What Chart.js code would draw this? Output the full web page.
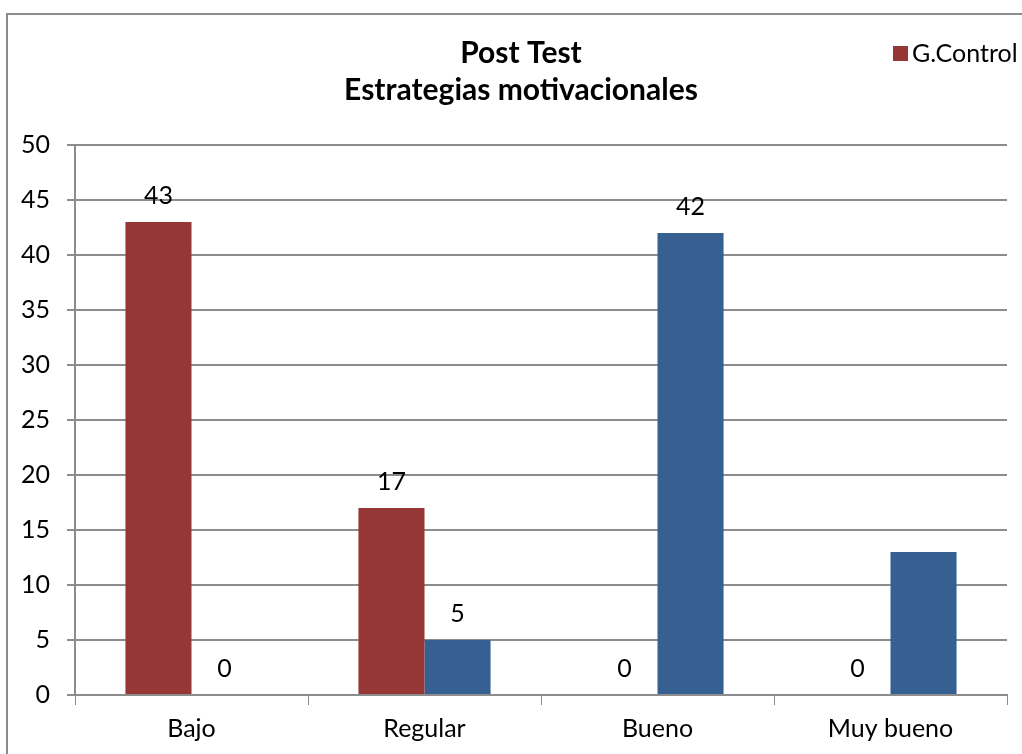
<!DOCTYPE html>
<html lang="es">
<head>
<meta charset="UTF-8">
<title>Post Test</title>
<script src="https://cdn.jsdelivr.net/npm/chart.js"></script>
<style>
  body { margin: 0; background: #fff; }
  canvas { display: block; }
</style>
</head>
<body>
<canvas id="grafico" width="1022" height="754"></canvas>
<script>
  var categorias = ['Bajo', 'Regular', 'Bueno', 'Muy bueno'];
  var gControl = [43, 17, 0, 0];
  var gExperimental = [0, 5, 42, 13];
  // el 13 no lleva etiqueta en la imagen original
  var etiquetasControl = ['43', '17', '0', '0'];
  var etiquetasExperimental = ['0', '5', '42', ''];
  var titulo = ['Post Test', 'Estrategias motivacionales'];

  var fuente = 'Lato, "Open Sans", sans-serif';
  var rojo = '#953735';
  var azul = '#376092';
  var gris = '#8c8c8c';

  var extras = {
    id: 'extras',
    beforeDraw: function (chart) {
      var ctx = chart.ctx;
      ctx.save();
      ctx.strokeStyle = gris;
      ctx.lineWidth = 2;
      ctx.beginPath();
      ctx.moveTo(7, 754);
      ctx.lineTo(7, 14);
      ctx.lineTo(1022, 14);
      ctx.stroke();
      ctx.restore();
    },
    afterDatasetsDraw: function (chart) {
      var ctx = chart.ctx;
      var etiquetas = [etiquetasControl, etiquetasExperimental];
      ctx.save();
      ctx.fillStyle = '#000';
      ctx.font = '25px ' + fuente;
      ctx.textAlign = 'center';
      ctx.textBaseline = 'middle';
      chart.data.datasets.forEach(function (ds, i) {
        chart.getDatasetMeta(i).data.forEach(function (bar, j) {
          if (etiquetas[i][j]) ctx.fillText(etiquetas[i][j], bar.x, bar.y - 26);
        });
      });

      // titulo
      ctx.textBaseline = 'alphabetic';
      ctx.font = 'bold 30px ' + fuente;
      ctx.fillText(titulo[0], 521, 63);
      ctx.fillText(titulo[1], 521, 100);

      // leyenda (solo se ve G.Control)
      ctx.fillStyle = rojo;
      ctx.fillRect(893, 46, 15, 15);
      ctx.fillStyle = '#000';
      ctx.textAlign = 'left';
      ctx.textBaseline = 'middle';
      ctx.font = '25px ' + fuente;
      ctx.fillText(chart.data.datasets[0].label, 912, 54);
      ctx.restore();
    }
  };

  new Chart(document.getElementById('grafico'), {
    type: 'bar',
    data: {
      labels: categorias,
      datasets: [
        { label: 'G.Control', data: gControl, backgroundColor: rojo },
        { label: 'G.Experimental', data: gExperimental, backgroundColor: azul }
      ]
    },
    options: {
      responsive: false,
      animation: false,
      layout: { padding: { top: 145, right: 15, left: 0, bottom: 0 } },
      plugins: {
        legend: { display: false },
        title: { display: false },
        tooltip: { enabled: false }
      },
      datasets: {
        bar: { barPercentage: 1, categoryPercentage: 0.567 }
      },
      scales: {
        x: {
          afterFit: function (s) { s.height = 59; },
          grid: { offset: true, drawOnChartArea: false, color: gris, tickLength: 10 },
          border: { color: gris, width: 2 },
          ticks: { color: '#000', font: { family: fuente, size: 25 }, padding: 9 }
        },
        y: {
          min: 0,
          max: 50,
          afterFit: function (s) { s.width = 75; },
          grid: { color: gris, tickLength: 8, lineWidth: 2 },
          border: { color: gris, width: 2 },
          ticks: { stepSize: 5, color: '#000', font: { family: fuente, size: 25 }, padding: 17 }
        }
      }
    },
    plugins: [extras]
  });
</script>
</body>
</html>
